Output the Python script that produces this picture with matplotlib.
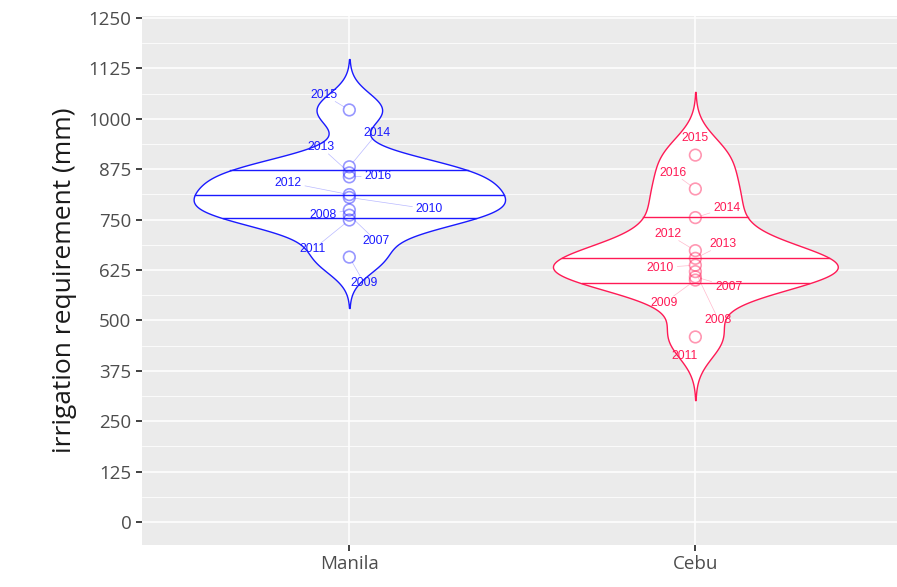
import numpy as np
import matplotlib.pyplot as plt
from matplotlib.ticker import MultipleLocator

# irrigation requirement per year (mm)
sites = ['Manila', 'Cebu']
colours = {'Manila': '#1a1aff', 'Cebu': '#ff1a55'}

years_manila = [2015, 2014, 2013, 2016, 2012, 2010, 2008, 2007, 2011, 2009]
req_manila = [1022, 881, 866, 856, 812, 805, 774, 761, 749, 657]

years_cebu = [2015, 2016, 2014, 2012, 2013, 2010, 2008, 2007, 2009, 2011]
req_cebu = [910, 826, 755, 673, 654, 637, 621, 608, 600, 459]

# label offsets (x in category units, y in mm) for the year labels
off_manila = {2015: (-0.072, 1059), 2014: (0.081, 965), 2013: (-0.081, 929),
              2016: (0.083, 858), 2012: (-0.177, 842), 2010: (0.231, 776),
              2008: (-0.076, 761), 2007: (0.078, 697), 2011: (-0.105, 676),
              2009: (0.042, 594)}
off_cebu = {2015: (0.0, 952), 2016: (-0.064, 866), 2014: (0.091, 780),
            2012: (-0.079, 714), 2013: (0.081, 689), 2010: (-0.101, 631),
            2007: (0.096, 584), 2009: (-0.089, 544), 2008: (0.067, 501),
            2011: (-0.032, 412)}

data = {'Manila': (years_manila, req_manila, off_manila),
        'Cebu': (years_cebu, req_cebu, off_cebu)}


def bw_nrd0(x):
    x = np.asarray(x, float)
    iqr = np.subtract(*np.percentile(x, [75, 25]))
    lo = min(np.std(x, ddof=1), iqr / 1.34)
    return 0.9 * lo * len(x) ** -0.2


def density(x, n=512, cut=3):
    x = np.asarray(x, float)
    bw = bw_nrd0(x)
    grid = np.linspace(x.min() - cut * bw, x.max() + cut * bw, n)
    d = np.exp(-0.5 * ((grid[:, None] - x[None, :]) / bw) ** 2).sum(1)
    d /= len(x) * bw * np.sqrt(2 * np.pi)
    return grid, d


dens = {s: density(data[s][1]) for s in sites}
dmax = max(d.max() for _, d in dens.values())

fig = plt.figure(figsize=(8.97, 5.87), dpi=100)
ax = fig.add_axes([141.7 / 897, 42 / 587, 761.3 / 897, 529 / 587])
ax.set_facecolor('#ebebeb')
ax.set_xlim(-0.6, 1.6)
ax.set_ylim(-57, 1255)

ax.yaxis.set_major_locator(MultipleLocator(125))
ax.yaxis.set_minor_locator(MultipleLocator(62.5))
ax.grid(which='major', color='white', lw=1.1)
ax.grid(which='minor', axis='y', color='white', lw=0.55)
ax.set_axisbelow(True)
for sp in ax.spines.values():
    sp.set_visible(False)

for i, s in enumerate(sites):
    c = colours[s]
    y, d = dens[s]
    w = 0.45 * d / dmax
    ax.fill_betweenx(y, i - w, i + w, facecolor='white', edgecolor=c, lw=1.0, zorder=2)
    # quantile lines from the density
    cum = np.cumsum(d) / d.sum()
    for q in (0.25, 0.5, 0.75):
        yq = np.interp(q, cum, y)
        wq = np.interp(yq, y, w)
        ax.plot([i - wq, i + wq], [yq, yq], color=c, lw=1.0, zorder=3)

fig.canvas.draw()
to_px = ax.transData.transform
from_px = ax.transData.inverted().transform

for i, s in enumerate(sites):
    c = colours[s]
    yrs, vals, offs = data[s]
    ax.scatter([i] * len(vals), vals, s=70, facecolors='none', edgecolors=c,
               linewidths=1.2, alpha=0.45, zorder=4)
    for yr, v in zip(yrs, vals):
        dx, ly = offs[yr]
        lx = i + dx
        p0 = to_px((i, v))
        p1 = to_px((lx, ly))
        vec = p1 - p0
        dist = np.hypot(*vec)
        # stop the segment at the label box
        hw, hh = 17.0, 6.5
        tx = 1 - hw / abs(vec[0]) if abs(vec[0]) > hw else 0
        ty = 1 - hh / abs(vec[1]) if abs(vec[1]) > hh else 0
        t = max(tx, ty)
        if dist > 25 and t > 0.2:
            q0 = from_px(p0 + vec / dist * 6)
            q1 = from_px(p0 + vec * t)
            ax.plot([q0[0], q1[0]], [q0[1], q1[1]], color=c, lw=0.5, alpha=0.3, zorder=3)
        ax.text(lx, ly, str(yr), color=c, fontsize=8.8, family='Liberation Sans',
                ha='center', va='center', zorder=5)

ax.set_xticks([0, 1])
ax.set_xticklabels(sites)
ax.tick_params(axis='both', which='major', colors='#333333', labelcolor='#4d4d4d',
               labelsize=13.5, length=4, width=1.3)
ax.tick_params(axis='y', which='minor', length=0)
for lab in ax.get_xticklabels() + ax.get_yticklabels():
    lab.set_family('Open Sans')
ax.set_ylabel('irrigation requirement (mm)', fontsize=19, family='Open Sans',
              color='#1a1a1a', labelpad=8)

fig.savefig('out.png', dpi=100)
